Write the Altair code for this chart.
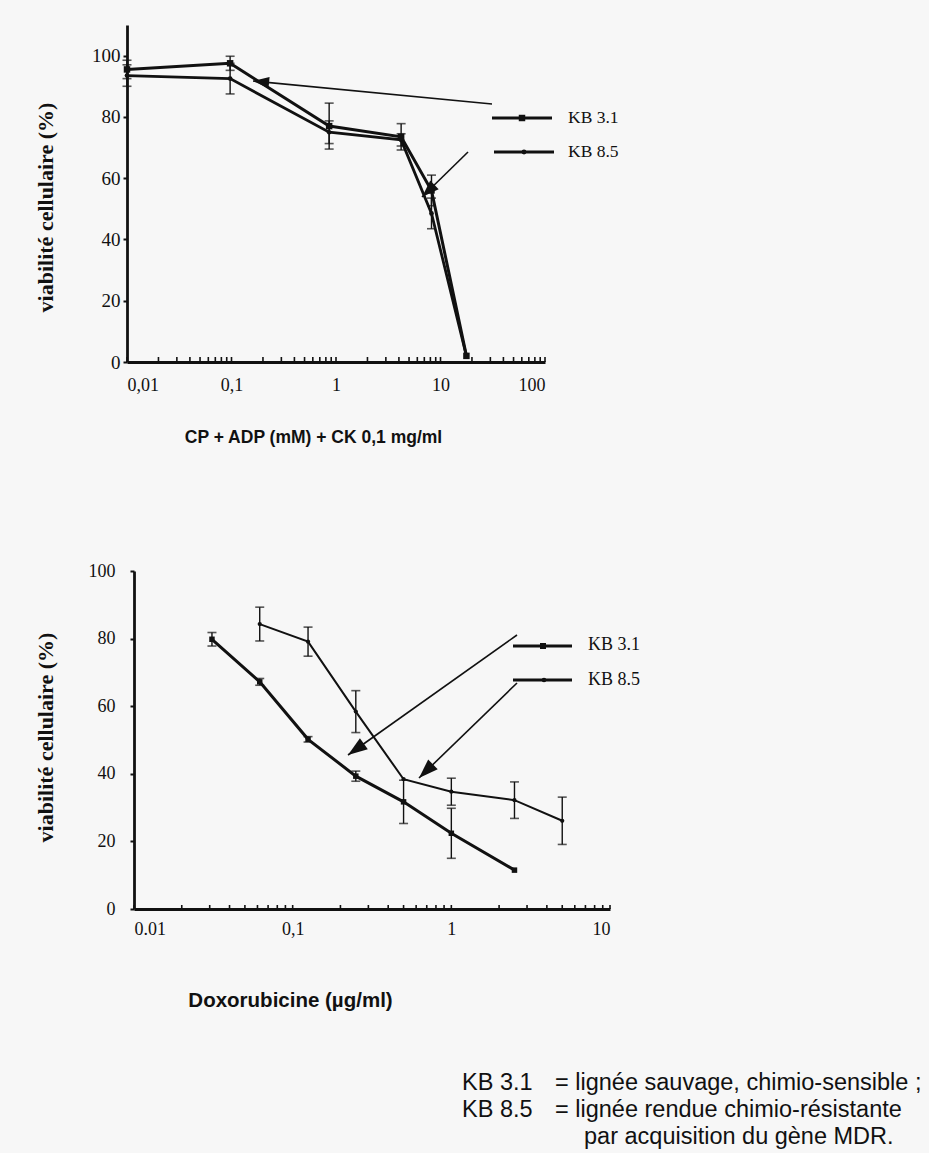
import altair as alt
import pandas as pd

# ---------------- data ----------------
# Top panel : CP + ADP (mM) + CK 0,1 mg/ml
top_x = [0.01, 0.097, 0.86, 4.2, 8.2, 17.7]
top_kb31 = [95.5, 97.5, 77.0, 73.5, 56.0, 2.0]
top_kb31_err = [3.0, 2.3, 7.5, 4.3, 5.0, 0.0]
top_kb85 = [93.5, 92.5, 75.0, 72.5, 48.5, 2.0]
top_kb85_err = [3.5, 5.0, 3.7, 2.0, 5.0, 0.0]

# Bottom panel : Doxorubicine (µg/ml)
bot_x31 = [0.031, 0.062, 0.125, 0.25, 0.5, 1.0, 2.5]
bot_kb31 = [79.8, 67.2, 50.2, 39.3, 31.7, 22.4, 11.5]
bot_kb31_err = [2.0, 1.0, 0.8, 1.5, 6.4, 7.4, 0.0]
bot_x85 = [0.062, 0.125, 0.25, 0.5, 1.0, 2.5, 5.0]
bot_kb85 = [84.3, 79.1, 58.4, 38.4, 34.7, 32.2, 26.1]
bot_kb85_err = [5.0, 4.3, 6.2, 0.0, 4.0, 5.4, 7.0]

top_decades = [0.01, 0.1, 1, 10, 100]
bot_decades = [0.01, 0.1, 1, 10]
mult = [1, 2, 3, 4, 5, 6, 7, 8, 9]
y_ticks = [0, 10, 20, 30, 40, 50, 60, 70, 80, 90, 100]

series_names = ["KB 3.1", "KB 8.5"]
foot_keys = ["KB 3.1", "KB 8.5", ""]
foot_texts = ["= lignée sauvage, chimio-sensible ;",
              "= lignée rendue chimio-résistante",
              "par acquisition du gène MDR."]

INK = "#111111"
SERIF = "Liberation Serif"
SANS = "Liberation Sans"
ARROW = "M0,0L-0.7,2L0.7,2Z"


def frame(x, y, err):
    d = pd.DataFrame({"x": x, "y": y, "err": err})
    d["lo"] = d["y"] - d["err"]
    d["hi"] = d["y"] + d["err"]
    return d


one = pd.DataFrame({"a": [0]})


def rule(x1, y1, x2, y2, w):
    return alt.Chart(one).mark_rule(color=INK, strokeWidth=w).encode(
        x=alt.value(x1), x2=alt.value(x2), y=alt.value(y1), y2=alt.value(y2))


def head(x, y, ang, size):
    return alt.Chart(one).mark_point(
        shape=ARROW, filled=True, color=INK, opacity=1,
        size=size, angle=ang).encode(x=alt.value(x), y=alt.value(y))


def label(x, y, txt, font, size, weight="normal", align="left"):
    return alt.Chart(one).mark_text(
        text=txt, font=font, fontSize=size, fontWeight=weight, align=align,
        baseline="middle", color=INK).encode(x=alt.value(x), y=alt.value(y))


def series_layers(d, xs, ys, width, shape, msize, cap):
    base = alt.Chart(d)
    X = alt.X("x:Q", scale=xs)
    e = d[d["err"] > 0]
    eb = alt.Chart(e)
    layers = [
        eb.mark_rule(color=INK, strokeWidth=1.4).encode(
            x=X, y=alt.Y("lo:Q", scale=ys), y2="hi:Q"),
        eb.mark_tick(color=INK, orient="horizontal", size=cap, thickness=1.6).encode(
            x=X, y=alt.Y("lo:Q", scale=ys)),
        eb.mark_tick(color=INK, orient="horizontal", size=cap, thickness=1.6).encode(
            x=X, y=alt.Y("hi:Q", scale=ys)),
        base.mark_line(color=INK, strokeWidth=width).encode(
            x=X, y=alt.Y("y:Q", scale=ys)),
        base.mark_point(shape=shape, filled=True, color=INK, opacity=1,
                        size=msize).encode(x=X, y=alt.Y("y:Q", scale=ys)),
    ]
    return layers


# ---------------- top panel ----------------
W1, H1 = 418, 337
xs1 = alt.Scale(type="log", domain=[0.01, 100], nice=False)
ys1 = alt.Scale(domain=[0, 110], nice=False, zero=False)

t31 = frame(top_x, top_kb31, top_kb31_err)
t85 = frame(top_x, top_kb85, top_kb85_err)

minor1 = pd.DataFrame({"t": [m * d for d in top_decades[:-1] for m in mult] + [100]})

axis_frame1 = alt.Chart(minor1).mark_rule(color=INK, strokeWidth=1.6).encode(
    x=alt.X("t:Q", scale=xs1, axis=alt.Axis(
        values=top_decades, ticks=False, labelPadding=14,
        labelExpr="replace(format(datum.value, '~g'), '.', ',')",
        labelFont=SERIF, labelFontSize=18, labelColor=INK,
        domainColor=INK, domainWidth=2.8, grid=False,
        title="CP + ADP (mM) + CK 0,1 mg/ml", titleFont=SANS,
        titleFontSize=17.5, titleFontWeight="bold", titleColor=INK,
        titleX=186, titleY=75, titleAlign="center", titleBaseline="middle")),
    y=alt.value(H1), y2=alt.value(H1 - 5))

yaxis1 = alt.Chart(pd.DataFrame({"v": y_ticks})).mark_point(opacity=0).encode(
    y=alt.Y("v:Q", scale=ys1, axis=alt.Axis(
        values=y_ticks, labelExpr="datum.value % 20 == 0 ? datum.label : ''",
        tickSize=4, tickWidth=2, tickColor=INK, labelPadding=3,
        labelFont=SERIF, labelFontSize=19, labelColor=INK,
        domainColor=INK, domainWidth=2.8, grid=False,
        title="viabilité cellulaire (%)", titleFont=SERIF, titleFontSize=22,
        titleFontWeight="bold", titleColor=INK, titleAngle=270,
        titleX=-82, titleY=182, titleAlign="center", titleBaseline="middle")),
    x=alt.value(0))

top_layers = [axis_frame1, yaxis1]
top_layers += series_layers(t85, xs1, ys1, 2.8, "circle", 22, 9)
top_layers += series_layers(t31, xs1, ys1, 3.0, "square", 42, 9)
top_layers += [
    rule(365, 93, 425, 93, 2.8), label(441, 93, series_names[0], SERIF, 17.5),
    alt.Chart(one).mark_point(shape="square", filled=True, color=INK, opacity=1,
                              size=42).encode(x=alt.value(395), y=alt.value(93)),
    rule(367, 127, 427, 127, 2.8), label(441, 127, series_names[1], SERIF, 17.5),
    alt.Chart(one).mark_point(shape="circle", filled=True, color=INK, opacity=1,
                              size=24).encode(x=alt.value(397), y=alt.value(127)),
    rule(365, 79, 126, 56, 1.6), head(126, 56, 275.5, 260),
    rule(341, 127, 295, 172, 1.6), head(295, 172, 226, 300),
]
top = alt.layer(*top_layers).properties(width=W1, height=H1)

# ---------------- bottom panel ----------------
W2, H2 = 483, 338
OFF = 7
xs2 = alt.Scale(type="log", domain=[0.01, 10], nice=False, range=[OFF, W2])
ys2 = alt.Scale(domain=[0, 100], nice=False)

b31 = frame(bot_x31, bot_kb31, bot_kb31_err)
b85 = frame(bot_x85, bot_kb85, bot_kb85_err)

minor2 = pd.DataFrame({"t": [m * d for d in bot_decades[:-1] for m in mult] + [10]})

axis_frame2 = alt.Chart(minor2).mark_rule(color=INK, strokeWidth=1.6).encode(
    x=alt.X("t:Q", scale=xs2, axis=alt.Axis(
        values=bot_decades, ticks=False, labelPadding=11,
        labelExpr="datum.value < 0.05 ? '0.01' : replace(format(datum.value, '~g'), '.', ',')",
        labelFont=SERIF, labelFontSize=18, labelColor=INK,
        domainColor=INK, domainWidth=2.8, grid=False,
        title="Doxorubicine (µg/ml)", titleFont=SANS,
        titleFontSize=20.5, titleFontWeight="bold", titleColor=INK,
        titleX=163, titleY=91, titleAlign="center", titleBaseline="middle")),
    y=alt.value(H2), y2=alt.value(H2 - 4))

yaxis2 = alt.Chart(pd.DataFrame({"v": y_ticks})).mark_point(opacity=0).encode(
    y=alt.Y("v:Q", scale=ys2, axis=alt.Axis(
        values=y_ticks, offset=-OFF,
        labelExpr="datum.value % 20 == 0 ? datum.label : ''",
        tickSize=4, tickWidth=2, tickColor=INK, labelPadding=15,
        labelFont=SERIF, labelFontSize=18, labelColor=INK,
        domainColor=INK, domainWidth=2.8, grid=False,
        title="viabilité cellulaire (%)", titleFont=SERIF, titleFontSize=22,
        titleFontWeight="bold", titleColor=INK, titleAngle=270,
        titleX=-89, titleY=166, titleAlign="center", titleBaseline="middle")),
    x=alt.value(OFF))

bot_layers = [axis_frame2, yaxis2]
bot_layers += series_layers(b85, xs2, ys2, 2.0, "circle", 18, 9)
bot_layers += series_layers(b31, xs2, ys2, 3.0, "square", 30, 9)
bot_layers += [
    rule(386, 75, 445, 75, 2.8), label(461, 74, series_names[0], SERIF, 18),
    alt.Chart(one).mark_point(shape="square", filled=True, color=INK, opacity=1,
                              size=36).encode(x=alt.value(416), y=alt.value(75)),
    rule(386, 109, 445, 109, 2.8), label(461, 109, series_names[1], SERIF, 18),
    alt.Chart(one).mark_point(shape="circle", filled=True, color=INK, opacity=1,
                              size=22).encode(x=alt.value(417), y=alt.value(109)),
    rule(390, 64, 221, 184, 1.6), head(221, 184, 234.5, 380),
    rule(390, 112, 292, 207, 1.6), head(292, 207, 225.7, 380),
    label(335, 512, foot_keys[0], SANS, 23.5),
    label(428, 512, foot_texts[0], SANS, 23.5),
    label(335, 539, foot_keys[1], SANS, 23.5),
    label(428, 539, foot_texts[1], SANS, 23.5),
    label(457, 566, foot_texts[2], SANS, 23.5),
]
bottom = alt.layer(*bot_layers).properties(width=W2, height=H2)

chart = alt.vconcat(top, bottom, spacing=116).configure(
    padding={"left": 34, "top": 25, "right": 7, "bottom": 4},
    background="#f7f7f7",
).configure_view(stroke=None)

chart.save("out.html", embed_options={"renderer": "svg", "actions": False})
